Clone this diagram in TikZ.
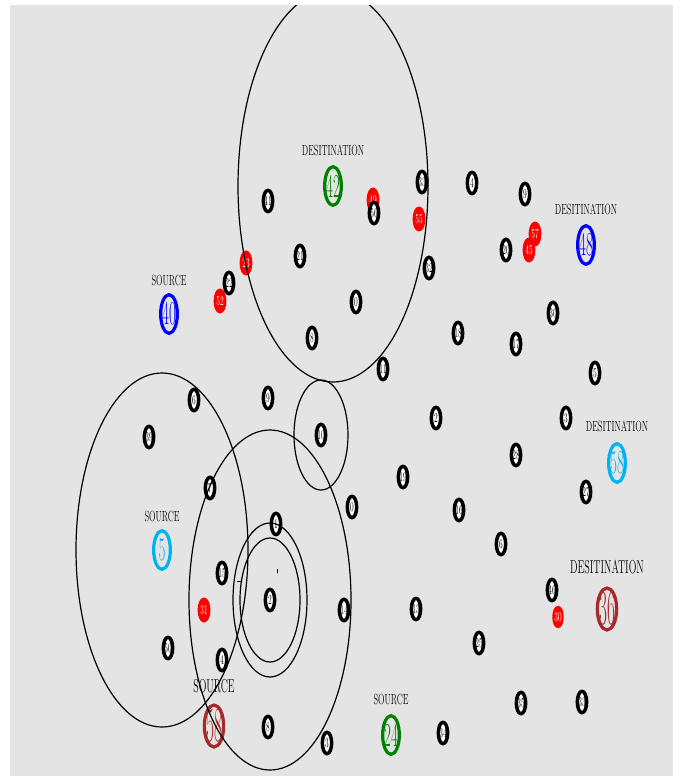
\documentclass[tikz,border=0pt]{standalone}
\usepackage{graphicx}
\usepackage{xcolor}
\usepackage{tikz}
\usetikzlibrary{shapes.geometric, positioning}

\definecolor{panel}{RGB}{228,228,228}
\definecolor{dkgreen}{RGB}{0,128,0}
\definecolor{sky}{RGB}{0,178,240}
\definecolor{brick}{RGB}{165,42,42}
\newcommand{\squeeze}[2]{\scalebox{#1}[1]{#2}}

\begin{document}
\begin{tikzpicture}[x=0.75pt, y=-0.75pt,
    host/.style={ellipse, draw=black, fill=white, line width=2.6pt, inner sep=-20pt, minimum width=7pt, minimum height=16pt, font=\fontsize{10}{10}\selectfont},
    lost/.style={host, draw=red, fill=red, text=white},
    hub/.style={ellipse, draw, line width=2.4pt, inner sep=-20pt, minimum width=12.5pt, minimum height=29pt, font=\fontsize{25}{25}\selectfont},
    bighub/.style={hub, minimum width=14.5pt, minimum height=31.5pt, font=\fontsize{37}{37}\selectfont},
    tag/.style={inner sep=0pt, font=\fontsize{11}{11}\selectfont},
    bigtag/.style={inner sep=0pt, font=\fontsize{14}{14}\selectfont},
    reach/.style={draw=black, line width=0.9pt}]
    \useasboundingbox (0,0) rectangle (680,776);
    \fill[white] (0,0) rectangle (680,776);
    \fill[panel] (10,5) rectangle (673,776);

    \node[hub, draw=dkgreen, text=dkgreen] (D42) at (333,186) {\squeeze{0.45}{42}};
    \node[hub, draw=blue, text=blue] (D48) at (586,245) {\squeeze{0.45}{48}};
    \node[hub, draw=blue, text=blue] (S40) at (169,314) {\squeeze{0.45}{40}};
    \node[hub, draw=sky, text=sky] (S5) at (162,550) {\squeeze{0.45}{5}};
    \node[hub, draw=sky, text=sky] (D58) at (617,463) {\squeeze{0.45}{58}};
    \node[hub, draw=dkgreen, text=dkgreen] (S24) at (391,735) {\squeeze{0.45}{24}};
    \node[bighub, draw=brick, text=brick] (D36) at (607,609) {\squeeze{0.35}{36}};
    \node[bighub, draw=brick, text=brick] (S58) at (214,726) {\squeeze{0.35}{58}};

    \node[tag, above=7pt of D42] (T42) {\squeeze{0.58}{DESITINATION}};
    \node[tag, above=7pt of D48] (T48) {\squeeze{0.58}{DESITINATION}};
    \node[tag, above=5.5pt of S40] (T40) {\squeeze{0.58}{SOURCE}};
    \node[tag, above=5.5pt of S5] (T5) {\squeeze{0.58}{SOURCE}};
    \node[tag, above=7.5pt of D58] (T58) {\squeeze{0.58}{DESITINATION}};
    \node[tag, above=7pt of S24] (T24) {\squeeze{0.58}{SOURCE}};
    \node[bigtag, above=9pt of D36] (T36) {\squeeze{0.54}{DESITINATION}};
    \node[bigtag, above=8pt of S58] (TS58) {\squeeze{0.54}{SOURCE}};

    \node[host] (N41) at (268,201) {\squeeze{0.55}{41}};
    \node[host] (N21) at (300,256) {\squeeze{0.55}{21}};
    \node[host] (N0a) at (356,302) {\squeeze{0.55}{0}};
    \node[host] (N8a) at (312,338) {\squeeze{0.55}{8}};
    \node[host] (N11) at (383,369) {\squeeze{0.55}{11}};
    \node[host] (N22) at (229,283) {\squeeze{0.55}{22}};
    \node[lost] (N52) at (220,301) {\squeeze{0.55}{52}};
    \node[lost] (N23) at (246,263) {\squeeze{0.55}{23}};
    \node[lost] (N49) at (373,200) {\squeeze{0.55}{49}};
    \node[host] (N56) at (374,213) {\squeeze{0.55}{56}};
    \node[lost] (N55) at (419,219) {\squeeze{0.55}{55}};
    \node[host] (N33) at (422,182) {\squeeze{0.55}{33}};
    \node[host] (N32) at (429,268) {\squeeze{0.55}{32}};
    \node[host] (N4a) at (472,183) {\squeeze{0.55}{4}};
    \node[host] (N9a) at (525,194) {\squeeze{0.55}{9}};
    \node[host] (N20) at (506,250) {\squeeze{0.55}{20}};
    \node[lost] (N57) at (535,234) {\squeeze{0.55}{57}};
    \node[lost] (N45) at (529,250) {\squeeze{0.55}{45}};
    \node[host] (N30) at (553,313) {\squeeze{0.55}{30}};
    \node[host] (N18) at (458,333) {\squeeze{0.55}{18}};
    \node[host] (N17) at (516,344) {\squeeze{0.55}{17}};
    \node[host] (N5a) at (595,373) {\squeeze{0.55}{5}};
    \node[host] (N9b) at (268,398) {\squeeze{0.55}{9}};
    \node[host] (N6a) at (194,400) {\squeeze{0.55}{6}};
    \node[host] (N39) at (149,437) {\squeeze{0.55}{39}};
    \node[host] (N10) at (321,435) {\squeeze{0.55}{10}};
    \node[host] (N7) at (210,488) {\squeeze{0.55}{7}};
    \node[host] (N0b) at (352,507) {\squeeze{0.55}{0}};
    \node[host] (N1) at (276,524) {\squeeze{0.55}{1}};
    \node[host] (N15) at (222,573) {\squeeze{0.55}{15}};
    \node[host] (N2) at (270,600) {\squeeze{0.55}{2}};
    \node[lost] (N31) at (204,610) {\squeeze{0.55}{31}};
    \node[host] (N14) at (344,610) {\squeeze{0.55}{14}};
    \node[host] (N50) at (168,648) {\squeeze{0.55}{50}};
    \node[host] (N4b) at (222,660) {\squeeze{0.55}{4}};
    \node[host] (N8b) at (268,727) {\squeeze{0.55}{8}};
    \node[host] (N3a) at (327,743) {\squeeze{0.55}{3}};
    \node[host] (N2b) at (436,418) {\squeeze{0.55}{2}};
    \node[host] (N19) at (403,477) {\squeeze{0.55}{19}};
    \node[host] (N28) at (516,455) {\squeeze{0.55}{28}};
    \node[host] (N3b) at (566,418) {\squeeze{0.55}{3}};
    \node[host] (N27) at (586,492) {\squeeze{0.55}{27}};
    \node[host] (N16) at (459,510) {\squeeze{0.55}{16}};
    \node[host] (N6b) at (501,544) {\squeeze{0.55}{6}};
    \node[host] (N13) at (416,609) {\squeeze{0.55}{13}};
    \node[host] (N25) at (479,643) {\squeeze{0.55}{25}};
    \node[host] (N46) at (552,590) {\squeeze{0.55}{46}};
    \node[lost, minimum width=6pt, minimum height=14pt] (N30b) at (558,617) {\squeeze{0.55}{30}};
    \node[host] (N35) at (521,703) {\squeeze{0.55}{35}};
    \node[host] (N33b) at (582,702) {\squeeze{0.55}{33}};
    \node[host] (N34) at (443,733) {\squeeze{0.55}{34}};

    \begin{scope}
        \clip (10,5) rectangle (673,776);
        \draw[reach] (D42) ellipse [x radius=95, y radius=196];
        \draw[reach] (S5) ellipse [x radius=86, y radius=177];
        \draw[reach] (N2) ellipse [x radius=81, y radius=170];
        \draw[reach] (N2) ellipse [x radius=37, y radius=77];
        \draw[reach] (N2) ellipse [x radius=30, y radius=62];
        \draw[reach] (N10) ellipse [x radius=27, y radius=55];
    \end{scope}

    \draw[line width=0.7pt] (277,569) -- (277,573);
    \draw[line width=0.7pt] (237,581) -- (241,581);
\end{tikzpicture}
\end{document}
